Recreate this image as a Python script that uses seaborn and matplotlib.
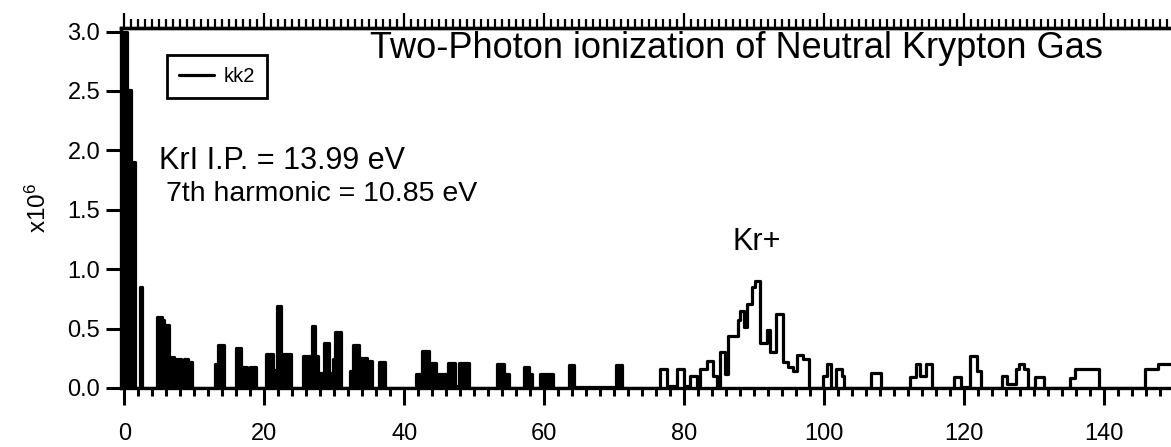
import numpy as np
import pandas as pd
import matplotlib
matplotlib.use("Agg")
import matplotlib.pyplot as plt
from matplotlib.ticker import MultipleLocator, FormatStrFormatter
import seaborn as sns

# step edges (mass axis) and counts (x10^6)
mass = [-0.3, 0.4, 0.95, 1.15, 1.55, 2.25, 2.55, 4.7, 5.4, 5.7, 6.35, 7.05, 7.3, 8.1,
        8.5, 9.1, 9.25, 9.7, 12.9, 13.3, 14.2, 15.9, 16.6, 17.5, 18.0, 18.8, 20.2, 21.2,
        21.3, 21.8, 22.4, 22.5, 23.8, 25.5, 26.8, 27.3, 27.7, 27.85, 28.5, 29.2, 29.35,
        29.8, 30.05, 31.0, 32.3, 32.7, 33.5, 34.7, 35.4, 36.4, 37.3, 41.7, 42.5, 43.6,
        44.6, 46.3, 47.2, 47.8, 49.2, 53.3, 54.3, 55.0, 57.1, 57.8, 58.2, 59.4, 61.3,
        63.5, 64.3, 70.3, 71.1, 76.6, 77.6, 79.0, 80.0, 80.9, 81.9, 82.3, 83.2, 84.1,
        84.7, 85.1, 85.8, 86.3, 87.7, 88.0, 88.5, 89.0, 89.7, 90.1, 90.9, 91.8, 92.3,
        93.2, 94.2, 94.9, 95.6, 96.2, 97.0, 97.8, 99.9, 100.4, 101.0, 101.7, 102.6,
        102.9, 106.7, 108.1, 112.3, 113.1, 113.7, 114.6, 115.5, 118.6, 119.6, 120.9,
        121.8, 122.5, 125.4, 126.1, 127.4, 127.9, 128.6, 129.2, 130.2, 131.5, 135.1,
        135.9, 139.3, 145.9, 147.8, 149.6]
counts = [3.0, 2.51, 1.33, 1.90, 0.0, 0.85, 0.0, 0.60, 0.57, 0.53, 0.26, 0.0, 0.24, 0.0,
          0.24, 0.0, 0.22, 0.0, 0.20, 0.36, 0.0, 0.34, 0.18, 0.0, 0.18, 0.0, 0.29, 0.0,
          0.15, 0.69, 0.0, 0.29, 0.0, 0.27, 0.52, 0.27, 0.0, 0.13, 0.38, 0.0, 0.13,
          0.24, 0.47, 0.0, 0.14, 0.36, 0.25, 0.23, 0.0, 0.22, 0.0, 0.12, 0.31, 0.21,
          0.12, 0.21, 0.02, 0.21, 0.0, 0.20, 0.12, 0.0, 0.18, 0.12, 0.0, 0.12, 0.0,
          0.19, 0.01, 0.19, 0.0, 0.16, 0.02, 0.16, 0.02, 0.10, 0.02, 0.16, 0.23, 0.10,
          0.0, 0.30, 0.12, 0.44, 0.57, 0.65, 0.51, 0.71, 0.85, 0.90, 0.38, 0.49, 0.30,
          0.62, 0.22, 0.18, 0.14, 0.28, 0.24, 0.0, 0.10, 0.20, 0.0, 0.16, 0.10,
          0.0, 0.13, 0.0, 0.09, 0.20, 0.10, 0.20, 0.0, 0.09, 0.01, 0.27,
          0.14, 0.0, 0.10, 0.03, 0.16, 0.20, 0.16, 0.0, 0.09, 0.0, 0.08,
          0.16, 0.0, 0.16, 0.20, 0.20]

x_ticks = [0, 20, 40, 60, 80, 100, 120, 140]
y_ticks = [0.0, 0.5, 1.0, 1.5, 2.0, 2.5, 3.0]

df = pd.DataFrame({"mass": mass, "counts": counts})

sns.set_style("ticks")
plt.rcParams["font.family"] = ["Liberation Sans", "DejaVu Sans"]
plt.rcParams["mathtext.default"] = "regular"
for key in ["text.color", "axes.labelcolor", "xtick.color", "ytick.color", "axes.edgecolor"]:
    plt.rcParams[key] = "black"

fig = plt.figure(figsize=(11.71, 4.47), dpi=100)
ax = fig.add_axes([121 / 1171, 59 / 447, 1 - 121 / 1171, 360 / 447])

sns.lineplot(data=df, x="mass", y="counts", drawstyle="steps-post", color="black",
             linewidth=2.3, label="kk2", ax=ax)
# the densely binned low-mass part prints as solid black
low = df["mass"] <= 76
ax.fill_between(df["mass"], df["counts"], step="post", where=low, color="black",
                linewidth=0, interpolate=False)

ax.set_xlim(-0.5, 149.6)
ax.set_ylim(0, 3.03)
ax.set_xticks(x_ticks)
ax.set_yticks(y_ticks)
ax.xaxis.set_minor_locator(MultipleLocator(2))
ax.yaxis.set_major_formatter(FormatStrFormatter("%.1f"))
ax.set_xlabel("")
ax.set_ylabel("x10$^{6}$", fontsize=17.5, labelpad=12)

ax.tick_params(axis="x", which="major", direction="out", length=12, width=2.2, labelsize=17, pad=13)
ax.tick_params(axis="x", which="minor", direction="out", length=6, width=2.2)
ax.tick_params(axis="y", which="major", direction="out", length=11, width=2.2, labelsize=17, pad=4)
ax.spines["right"].set_visible(False)
for s in ["left", "bottom", "top"]:
    ax.spines[s].set_linewidth(2.4)

top = ax.secondary_xaxis("top")
top.set_xticks(x_ticks)
top.xaxis.set_minor_locator(MultipleLocator(1))
top.tick_params(which="major", direction="out", length=11, width=1.6, labeltop=False)
top.tick_params(which="minor", direction="out", length=6.5, width=1.6)
top.spines["top"].set_linewidth(2.4)

leg = ax.legend(handles=[ax.lines[0]], labels=["kk2"], loc="upper left",
                bbox_to_anchor=(0.044, 0.925), fontsize=14.5, frameon=True, fancybox=False,
                edgecolor="black", framealpha=1, handlelength=1.7, handletextpad=0.5,
                borderpad=0.6, borderaxespad=0)
leg.get_frame().set_linewidth(2)

ax.text(35.1, 2.86, "Two-Photon ionization of Neutral Krypton Gas", fontsize=26,
        ha="left", va="center")
ax.text(4.9, 1.91, "KrI I.P. = 13.99 eV", fontsize=22, ha="left", va="center")
ax.text(5.9, 1.63, "7th harmonic = 10.85 eV", fontsize=20.5, ha="left", va="center")
ax.text(90.4, 1.23, "Kr+", fontsize=22, ha="center", va="center")

fig.savefig("out.png", dpi=100)
